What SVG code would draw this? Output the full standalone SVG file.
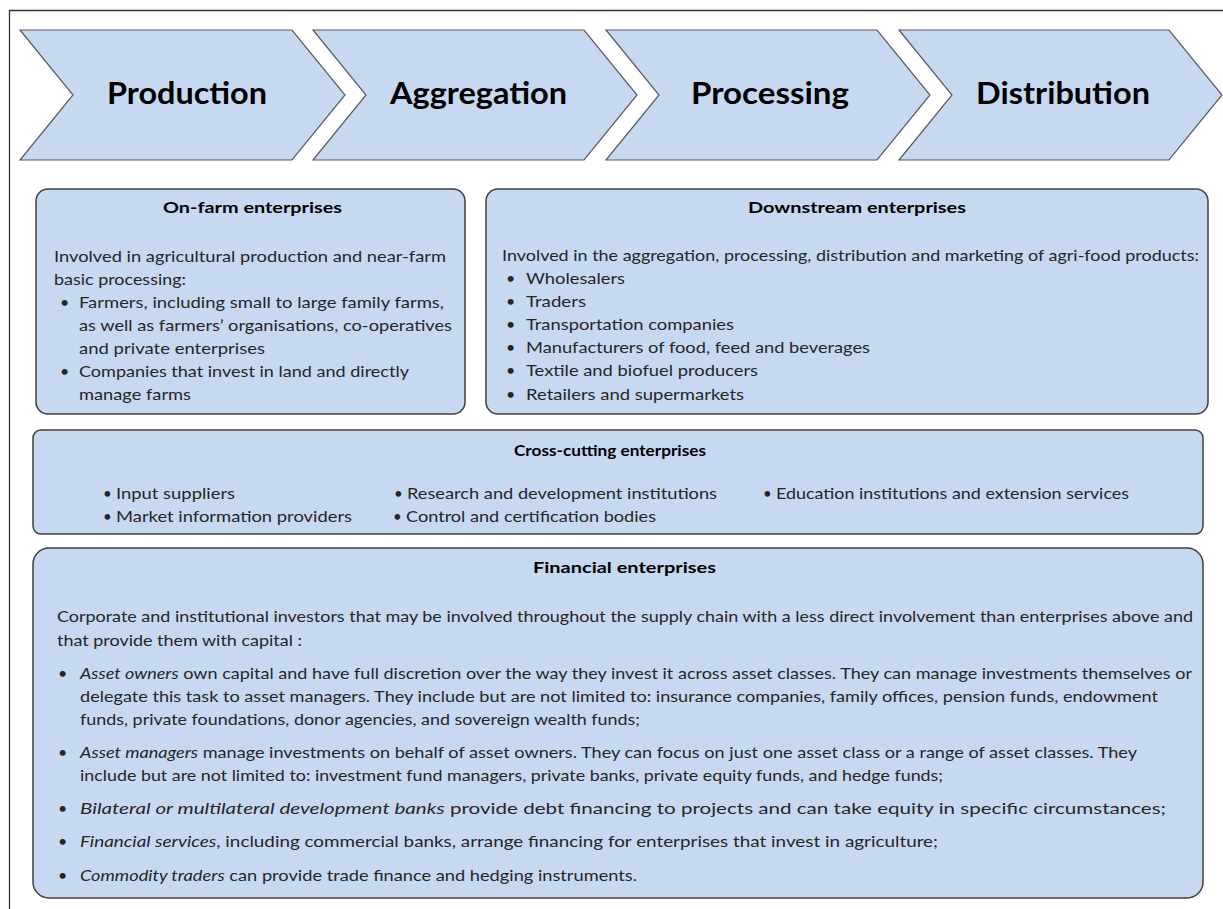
<svg xmlns="http://www.w3.org/2000/svg" width="1223" height="909" viewBox="0 0 1223 909">
<style>
.chev{fill:#C6D9F1;stroke:#5A5A5A;stroke-width:1.2}
.box{fill:#C6D9F1;stroke:#3F3F3F;stroke-width:1.5}
.ct{font-family:Lato,"Liberation Sans",sans-serif;font-weight:bold;font-size:30px;fill:#000}
.t{font-family:Lato,"Liberation Sans",sans-serif;font-weight:bold;font-size:16px;fill:#000}
.b{font-family:Lato,"Liberation Sans",sans-serif;font-size:16px;fill:#262626}
.s{font-family:Lato,"Liberation Sans",sans-serif;font-size:15px;fill:#262626}
.i{font-style:italic}
</style>
<rect x="0" y="0" width="1223" height="909" fill="#fff"/>
<path d="M9.5 930 V10.5 H1240" fill="none" stroke="#333" stroke-width="1.3"/>
<g id="chev-production">
<polygon class="chev" points="20,30 292,30 345,95 292,160 20,160 73,95"/>
<text class="ct" x="107" y="104" textLength="160" lengthAdjust="spacingAndGlyphs">Production</text>
</g>
<g id="chev-aggregation">
<polygon class="chev" points="313,30 584,30 637,95 584,160 313,160 366,95"/>
<text class="ct" x="390" y="104" textLength="177" lengthAdjust="spacingAndGlyphs">Aggregation</text>
</g>
<g id="chev-processing">
<polygon class="chev" points="606,30 877,30 930,95 877,160 606,160 659,95"/>
<text class="ct" x="691" y="104" textLength="158" lengthAdjust="spacingAndGlyphs">Processing</text>
</g>
<g id="chev-distribution">
<polygon class="chev" points="899,30 1169,30 1222,95 1169,160 899,160 952,95"/>
<text class="ct" x="976" y="104" textLength="174" lengthAdjust="spacingAndGlyphs">Distribution</text>
</g>
<g id="onfarm">
<rect class="box" x="36" y="189" width="429" height="225" rx="12"/>
<text class="t" x="163" y="213" textLength="179" lengthAdjust="spacingAndGlyphs">On-farm enterprises</text>
<text class="b" x="54" y="262" textLength="392" lengthAdjust="spacingAndGlyphs">Involved in agricultural production and near-farm</text>
<text class="b" x="54" y="285" textLength="132" lengthAdjust="spacingAndGlyphs">basic processing:</text>
<text class="b" x="60" y="308">•</text>
<text class="b" x="79" y="308" textLength="365" lengthAdjust="spacingAndGlyphs">Farmers, including small to large family farms,</text>
<text class="b" x="79" y="331" textLength="373" lengthAdjust="spacingAndGlyphs">as well as farmers’ organisations, co-operatives</text>
<text class="b" x="79" y="354" textLength="186" lengthAdjust="spacingAndGlyphs">and private enterprises</text>
<text class="b" x="60" y="377">•</text>
<text class="b" x="79" y="377" textLength="330" lengthAdjust="spacingAndGlyphs">Companies that invest in land and directly</text>
<text class="b" x="79" y="400" textLength="112" lengthAdjust="spacingAndGlyphs">manage farms</text>
</g>
<g id="downstream">
<rect class="box" x="486" y="189" width="722" height="225" rx="12"/>
<text class="t" x="748" y="213" textLength="218" lengthAdjust="spacingAndGlyphs">Downstream enterprises</text>
<text class="b" x="502" y="261" textLength="697" lengthAdjust="spacingAndGlyphs">Involved in the aggregation, processing, distribution and marketing of agri-food products:</text>
<text class="b" x="506" y="284">•</text>
<text class="b" x="526" y="284" textLength="99" lengthAdjust="spacingAndGlyphs">Wholesalers</text>
<text class="b" x="506" y="307">•</text>
<text class="b" x="526" y="307" textLength="60" lengthAdjust="spacingAndGlyphs">Traders</text>
<text class="b" x="506" y="330">•</text>
<text class="b" x="526" y="330" textLength="208" lengthAdjust="spacingAndGlyphs">Transportation companies</text>
<text class="b" x="506" y="353">•</text>
<text class="b" x="526" y="353" textLength="344" lengthAdjust="spacingAndGlyphs">Manufacturers of food, feed and beverages</text>
<text class="b" x="506" y="376">•</text>
<text class="b" x="526" y="376" textLength="232" lengthAdjust="spacingAndGlyphs">Textile and biofuel producers</text>
<text class="b" x="506" y="400">•</text>
<text class="b" x="526" y="400" textLength="218" lengthAdjust="spacingAndGlyphs">Retailers and supermarkets</text>
</g>
<g id="crosscutting">
<rect class="box" x="33" y="430" width="1170" height="104" rx="8"/>
<text class="t" x="514" y="456" textLength="192" lengthAdjust="spacingAndGlyphs">Cross-cutting enterprises</text>
<text class="s" x="103" y="499">•</text>
<text class="s" x="116" y="499" textLength="119" lengthAdjust="spacingAndGlyphs">Input suppliers</text>
<text class="s" x="103" y="522">•</text>
<text class="s" x="116" y="522" textLength="236" lengthAdjust="spacingAndGlyphs">Market information providers</text>
<text class="s" x="394" y="499">•</text>
<text class="s" x="407" y="499" textLength="310" lengthAdjust="spacingAndGlyphs">Research and development institutions</text>
<text class="s" x="393" y="522">•</text>
<text class="s" x="406" y="522" textLength="250" lengthAdjust="spacingAndGlyphs">Control and certification bodies</text>
<text class="s" x="763" y="499">•</text>
<text class="s" x="776" y="499" textLength="353" lengthAdjust="spacingAndGlyphs">Education institutions and extension services</text>
</g>
<g id="financial">
<rect class="box" x="33" y="548" width="1170" height="350" rx="16"/>
<text class="t" x="533" y="573" textLength="183" lengthAdjust="spacingAndGlyphs">Financial enterprises</text>
<text class="b" x="57" y="622" textLength="1136" lengthAdjust="spacingAndGlyphs">Corporate and institutional investors that may be involved throughout the supply chain with a less direct involvement than enterprises above and</text>
<text class="b" x="57" y="646" textLength="245" lengthAdjust="spacingAndGlyphs">that provide them with capital :</text>
<text class="b" x="58" y="679">•</text>
<text class="b" x="80" y="679" textLength="1112" lengthAdjust="spacingAndGlyphs"><tspan class="i">Asset owners</tspan> own capital and have full discretion over the way they invest it across asset classes. They can manage investments themselves or</text>
<text class="b" x="80" y="702" textLength="1078" lengthAdjust="spacingAndGlyphs">delegate this task to asset managers. They include but are not limited to: insurance companies, family offices, pension funds, endowment</text>
<text class="b" x="80" y="725" textLength="560" lengthAdjust="spacingAndGlyphs">funds, private foundations, donor agencies, and sovereign wealth funds;</text>
<text class="b" x="58" y="758">•</text>
<text class="b" x="80" y="758" textLength="1057" lengthAdjust="spacingAndGlyphs"><tspan class="i">Asset managers</tspan> manage investments on behalf of asset owners. They can focus on just one asset class or a range of asset classes. They</text>
<text class="b" x="80" y="781" textLength="863" lengthAdjust="spacingAndGlyphs">include but are not limited to: investment fund managers, private banks, private equity funds, and hedge funds;</text>
<text class="b" x="58" y="814">•</text>
<text class="b" x="80" y="814" textLength="1086" lengthAdjust="spacingAndGlyphs"><tspan class="i">Bilateral or multilateral development banks</tspan> provide debt financing to projects and can take equity in specific circumstances;</text>
<text class="b" x="58" y="847">•</text>
<text class="b" x="80" y="847" textLength="858" lengthAdjust="spacingAndGlyphs"><tspan class="i">Financial services</tspan>, including commercial banks, arrange financing for enterprises that invest in agriculture;</text>
<text class="b" x="58" y="881">•</text>
<text class="b" x="80" y="881" textLength="557" lengthAdjust="spacingAndGlyphs"><tspan class="i">Commodity traders</tspan> can provide trade finance and hedging instruments.</text>
</g>
<g id="connectors"></g>
</svg>
